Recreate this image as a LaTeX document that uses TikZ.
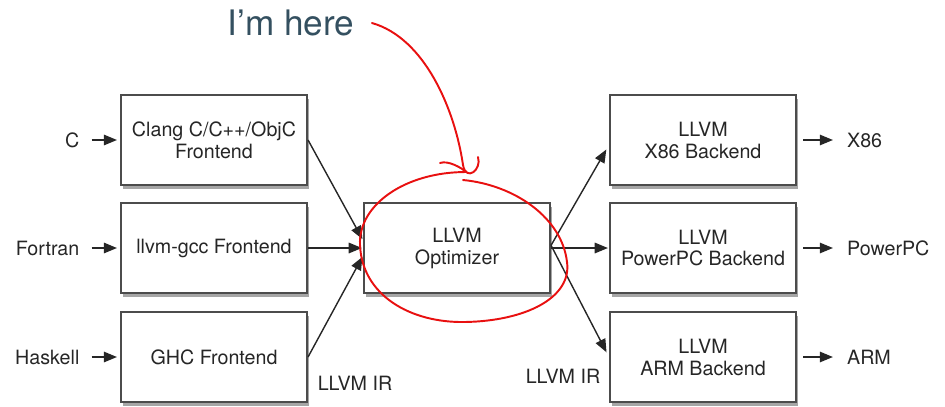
\documentclass[tikz,border=0pt]{standalone}
\usepackage{fontspec}
\setmainfont{TeX Gyre Heros}
\usepackage{tikz}
\usetikzlibrary{arrows.meta, positioning, shadows}
\definecolor{slatetxt}{RGB}{52, 80, 96}
\definecolor{penred}{RGB}{232, 16, 16}

\begin{document}
\begin{tikzpicture}[
    x=0.02cm, y=-0.02cm,
    font=\fontsize{11.2}{12.5}\selectfont,
    stage/.style={draw=black!70, line width=1.2pt, fill=white, text=black!85,
        minimum width=3.72cm, minimum height=1.8cm, align=center,
        drop shadow={shadow xshift=1pt, shadow yshift=-2.5pt, opacity=0.35, fill=black}},
    lang/.style={text=black!85, inner sep=3pt},
    flow/.style={-{Triangle[length=7.5pt, width=6pt]}, line width=0.8pt, black!85},
    irtxt/.style={text=black!85},
    pen/.style={penred, line width=1.1pt, line cap=round, line join=round},
]
\useasboundingbox (0,0) rectangle (945,406);

% --- Frontends (left column) ---
\node[stage] (clang) at (214,140) {Clang C/C++/ObjC\\Frontend};
\node[stage] (gcc) at (214,248) {llvm-gcc Frontend};
\node[stage] (ghc) at (214,357) {GHC Frontend};

% --- Optimizer (middle) ---
\node[stage] (opt) at (457,248) {LLVM\\Optimizer};

% --- Backends (right column) ---
\node[stage] (x86) at (703,140) {LLVM\\X86 Backend};
\node[stage] (ppc) at (703,248) {LLVM\\PowerPC Backend};
\node[stage] (arm) at (703,357) {LLVM\\ARM Backend};

% --- Source languages and targets ---
\node[lang, left=0.7cm of clang] (srcc) {C};
\node[lang, left=0.7cm of gcc] (srcf) {Fortran};
\node[lang, left=0.7cm of ghc] (srch) {Haskell};
\node[lang, right=0.89cm of x86] (outx) {X86};
\node[lang, right=0.89cm of ppc] (outp) {PowerPC};
\node[lang, right=0.89cm of arm] (outa) {ARM};

\draw[flow, shorten <=3.8pt, shorten >=1.7pt] (srcc) -- (clang);
\draw[flow, shorten <=3.8pt, shorten >=1.7pt] (srcf) -- (gcc);
\draw[flow, shorten <=3.8pt, shorten >=1.7pt] (srch) -- (ghc);
\draw[flow, shorten <=3.4pt, shorten >=4.9pt] (x86) -- (outx);
\draw[flow, shorten <=3.4pt, shorten >=4.9pt] (ppc) -- (outp);
\draw[flow, shorten <=3.4pt, shorten >=4.9pt] (arm) -- (outa);

% --- IR flow into and out of the optimizer ---
\draw[flow, shorten >=0.6pt] (clang.east) -- ([yshift=4.5pt]opt.west);
\draw[flow, shorten >=0.6pt] (gcc) -- (opt);
\draw[flow, shorten >=0.6pt] (ghc.east) -- ([yshift=-4.5pt]opt.west);
\draw[flow, shorten >=3pt] ([yshift=1.5pt]opt.east) -- ([yshift=-2.8pt]x86.west);
\draw[flow, shorten >=0.6pt] (opt) -- (ppc);
\draw[flow, shorten >=3pt] ([yshift=1.5pt]opt.east) -- (arm.west);

\node[irtxt] (irin) at (355,383) {LLVM IR};
\node[irtxt] (irout) at (563,376) {LLVM IR};

% --- Hand-drawn note ---
\node[text=slatetxt, font=\fontsize{20}{24}\selectfont] (here) at (291,23) {I’m here};
\draw[pen] ([xshift=6.5pt]here.east) .. controls (425,38) and (455,110) .. (463,165)
    .. controls (466,182) and (482,170) .. (478,157);
\draw[pen] (440,163) .. controls (448,160) and (462,168) .. (466,172)
    .. controls (405,172) and (358,205) .. (360,245)
    .. controls (362,295) and (410,323) .. (465,322)
    .. controls (525,321) and (572,298) .. (567,262)
    .. controls (562,218) and (515,185) .. (463,180);

\end{tikzpicture}
\end{document}
